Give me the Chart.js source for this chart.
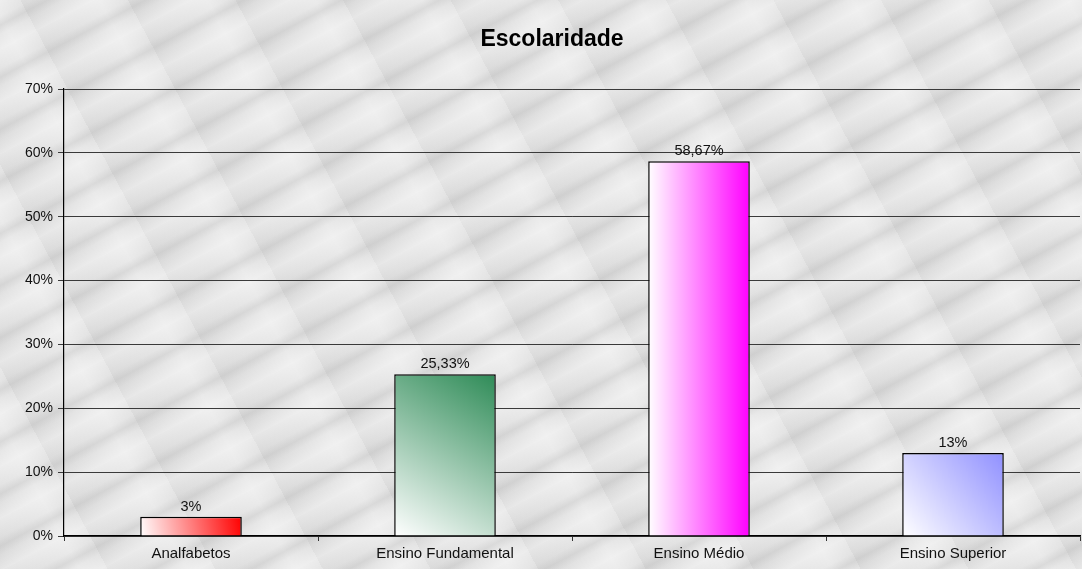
<!DOCTYPE html>
<html>
<head>
<meta charset="utf-8">
<title>Escolaridade</title>
<script src="https://cdn.jsdelivr.net/npm/chart.js@4"></script>
<style>
  html, body { margin: 0; padding: 0; }
  body {
    width: 1082px; height: 569px; overflow: hidden;
    background-color: #e3e3e3;
    background-image:
      repeating-linear-gradient(-28deg, rgba(255,255,255,0.35) 0px, rgba(255,255,255,0) 14px, rgba(150,150,150,0.18) 22px, rgba(255,255,255,0) 30px, rgba(255,255,255,0.3) 46px),
      repeating-linear-gradient(62deg, rgba(120,120,120,0.08) 0px, rgba(255,255,255,0) 40px, rgba(255,255,255,0.25) 70px, rgba(255,255,255,0) 95px);
  }
  #wrap { position: relative; width: 1082px; height: 569px; }
</style>
</head>
<body>
<div id="wrap"><canvas id="chart"></canvas></div>
<script>
// ── Data ──────────────────────────────────────────────
const categories  = ["Analfabetos", "Ensino Fundamental", "Ensino Médio", "Ensino Superior"];
const values      = [3, 25.33, 58.67, 13];
const valueLabels = ["3%", "25,33%", "58,67%", "13%"];
const yTicks      = [0, 10, 20, 30, 40, 50, 60, 70];
const chartTitle  = "Escolaridade";

// end colours of each bar's gradient (starts white)
const barColors = ["#ff0000", "#2e8b57", "#ff00ff", "#9090ff"];
// gradient direction per bar: diagonal (bottom-left → top-right) or horizontal
const diagonal  = [true, true, false, true];

const BAR_PCT = 0.4;

Chart.defaults.font.family = "'Liberation Sans', Arial, sans-serif";
Chart.defaults.color = "#000";

// gradient built from the scales, so it works on the very first draw
function barGradient(context) {
  const chart = context.chart;
  const i = context.dataIndex;
  const xs = chart.scales.x, ys = chart.scales.y;
  if (!xs || !ys || !chart.chartArea) return barColors[i];
  const cx = xs.getPixelForValue(i);
  const half = (xs.width / categories.length) * BAR_PCT / 2;
  const x0 = cx - half, x1 = cx + half;
  const top = ys.getPixelForValue(values[i]);
  const bottom = ys.getPixelForValue(0);
  const g = diagonal[i]
    ? chart.ctx.createLinearGradient(x0, bottom, x1, top)
    : chart.ctx.createLinearGradient(x0, top, x1, top);
  g.addColorStop(0, "#ffffff");
  g.addColorStop(1, barColors[i]);
  return g;
}

// title (sits a bit left of the plot centre) + value labels above each bar
const labelsPlugin = {
  id: "labels",
  afterDatasetsDraw(chart) {
    const ctx = chart.ctx;
    const meta = chart.getDatasetMeta(0);
    ctx.save();
    ctx.textAlign = "center";

    ctx.font = "bold 23px 'Liberation Sans', Arial, sans-serif";
    ctx.fillStyle = "#000";
    ctx.textBaseline = "middle";
    ctx.fillText(chartTitle, 552, 40);

    ctx.font = "14.5px 'Liberation Sans', Arial, sans-serif";
    ctx.fillStyle = "#111";
    ctx.textBaseline = "alphabetic";
    meta.data.forEach((bar, i) => {
      ctx.fillText(valueLabels[i], bar.x, bar.y - 6);
    });
    ctx.restore();
  },
};

new Chart(document.getElementById("chart"), {
  type: "bar",
  data: {
    labels: categories,
    datasets: [{
      data: values,
      backgroundColor: barGradient,
      borderColor: "#000",
      borderWidth: 1.5,
      categoryPercentage: 1,
      barPercentage: BAR_PCT,
    }],
  },
  options: {
    responsive: true,
    maintainAspectRatio: false,
    animation: false,
    layout: { padding: { top: 89, left: 0, right: 2, bottom: 0 } },
    plugins: {
      legend: { display: false },
      tooltip: { enabled: false },
      title: { display: false },
    },
    scales: {
      x: {
        grid: {
          offset: true,
          drawOnChartArea: false,
          drawTicks: true,
          tickLength: 5,
          color: "#333",
        },
        border: { color: "#000", width: 1.2 },
        ticks: { font: { size: 15 }, color: "#111", padding: 4 },
        afterFit(scale) { scale.height = 33; },
      },
      y: {
        min: 0,
        max: 70,
        afterBuildTicks(scale) { scale.ticks = yTicks.map(v => ({ value: v })); },
        grid: { color: "#3a3a3a", lineWidth: 1, tickLength: 6 },
        border: { color: "#000", width: 1.2 },
        ticks: {
          font: { size: 14 },
          color: "#111",
          padding: 5,
          callback: v => v + "%",
        },
        afterFit(scale) { scale.width = 64; },
      },
    },
  },
  plugins: [labelsPlugin],
});
</script>
</body>
</html>
